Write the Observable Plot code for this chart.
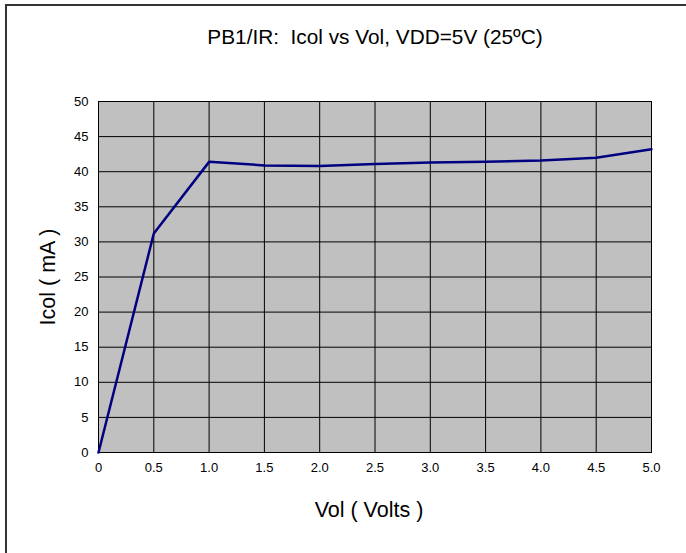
<!DOCTYPE html>
<html>
<head>
<meta charset="utf-8">
<script src="https://cdn.jsdelivr.net/npm/d3@7"></script>
<script src="https://cdn.jsdelivr.net/npm/@observablehq/plot@0.6"></script>
<style>
  html, body { margin: 0; padding: 0; background: #fff; overflow: hidden; }
  #wrap { position: relative; width: 686px; height: 553px; overflow: hidden; }
  #border { position: absolute; left: 5px; top: 4px; width: 720px; height: 600px; border-left: 2px solid #333; border-top: 2px solid #333; box-sizing: border-box; }
  #chart { position: absolute; left: 0; top: 0; }
  svg { font-family: "Liberation Sans", Arial, sans-serif; }
</style>
</head>
<body>
<div id="wrap"><div id="border"></div><div id="chart"></div></div>
<script>
const title = "PB1/IR:  Icol vs Vol, VDD=5V (25\u00BAC)";
const xLabel = "Vol ( Volts )";
const yLabel = "Icol ( mA )";
const vol = [0, 0.5, 1.0, 1.5, 2.0, 2.5, 3.0, 3.5, 4.0, 4.5, 5.0];
const icol = [0, 31.2, 41.4, 40.9, 40.8, 41.1, 41.3, 41.4, 41.6, 42.0, 43.2];
const xTicks = [0, 0.5, 1.0, 1.5, 2.0, 2.5, 3.0, 3.5, 4.0, 4.5, 5.0];
const xTickLabels = ["0", "0.5", "1.0", "1.5", "2.0", "2.5", "3.0", "3.5", "4.0", "4.5", "5.0"];
const yTicks = [0, 5, 10, 15, 20, 25, 30, 35, 40, 45, 50];

const data = vol.map((v, i) => ({vol: v, icol: icol[i]}));

const plot = Plot.plot({
  width: 686,
  height: 553,
  marginLeft: 98,
  marginRight: 35,
  marginTop: 101,
  marginBottom: 101,
  style: {fontFamily: '"Liberation Sans", Arial, sans-serif', background: "transparent", overflow: "visible"},
  x: {domain: [0, 5], ticks: xTicks},
  y: {domain: [0, 50], ticks: yTicks},
  marks: [
    Plot.frame({fill: "#c0c0c0", stroke: "none"}),
    Plot.gridX(xTicks, {stroke: "#000", strokeOpacity: 1, strokeWidth: 1}),
    Plot.gridY(yTicks, {stroke: "#000", strokeOpacity: 1, strokeWidth: 1}),
    Plot.frame({stroke: "#000", strokeWidth: 1}),
    Plot.axisX(xTicks, {tickSize: 0, tickPadding: 10, fontSize: 13, fill: "#000", label: null, tickFormat: (d) => xTickLabels[xTicks.indexOf(d)]}),
    Plot.axisY(yTicks, {tickSize: 0, tickPadding: 10, fontSize: 13, fill: "#000", label: null}),
    Plot.line(data, {x: "vol", y: "icol", stroke: "#000080", strokeWidth: 2.5}),
    Plot.text([title], {frameAnchor: "top", textAnchor: "middle", lineAnchor: "middle", dy: -64, fontSize: 20.8, fill: "#000"}),
    Plot.text([xLabel], {frameAnchor: "bottom", textAnchor: "middle", lineAnchor: "middle", dx: -6, dy: 58, fontSize: 21.5, fill: "#000"}),
    Plot.text([yLabel], {frameAnchor: "left", textAnchor: "middle", lineAnchor: "middle", dx: -50, rotate: -90, fontSize: 21.5, fill: "#000"})
  ]
});
document.getElementById("chart").appendChild(plot);
</script>
</body>
</html>
